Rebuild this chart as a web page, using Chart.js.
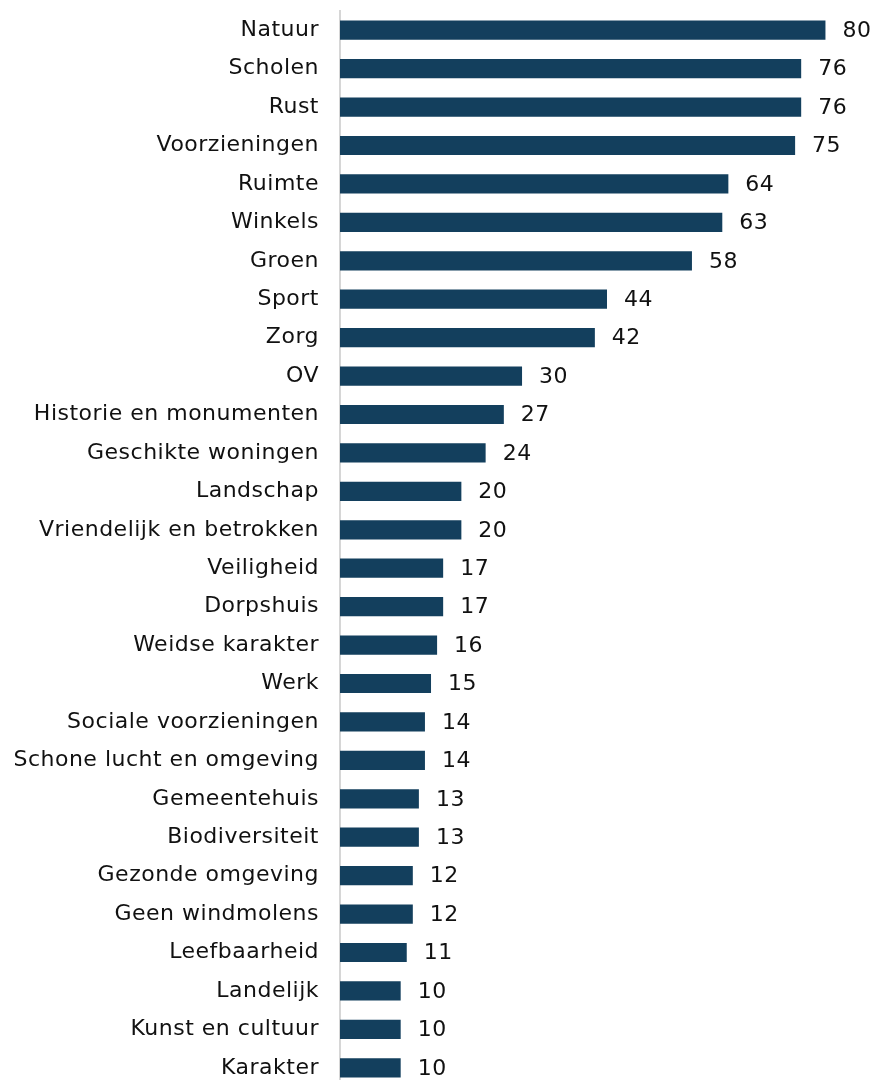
<!DOCTYPE html>
<html>
<head>
<meta charset="utf-8">
<script src="https://cdn.jsdelivr.net/npm/chart.js@4.4.1/dist/chart.umd.min.js"></script>
<style>
    html, body { margin: 0; padding: 0; background: #fff; overflow: hidden; }
    #wrap { width: 874px; height: 1080px; overflow: hidden; }
    #box { width: 874px; height: 1087px; }
</style>
</head>
<body>
<div id="wrap"><div id="box"><canvas id="chart"></canvas></div></div>
<script>
var categories = [
    'Natuur', 'Scholen', 'Rust', 'Voorzieningen', 'Ruimte', 'Winkels', 'Groen',
    'Sport', 'Zorg', 'OV', 'Historie en monumenten', 'Geschikte woningen',
    'Landschap', 'Vriendelijk en betrokken', 'Veiligheid', 'Dorpshuis',
    'Weidse karakter', 'Werk', 'Sociale voorzieningen', 'Schone lucht en omgeving',
    'Gemeentehuis', 'Biodiversiteit', 'Gezonde omgeving', 'Geen windmolens',
    'Leefbaarheid', 'Landelijk', 'Kunst en cultuur', 'Karakter'
];
var values = [
    80, 76, 76, 75, 64, 63, 58,
    44, 42, 30, 27, 24,
    20, 20, 17, 17,
    16, 15, 14, 14,
    13, 13, 12, 12,
    11, 10, 10, 10
];

var barColor = '#133f5d';
var textColor = '#111111';
var fontFamily = '"DejaVu Sans", sans-serif';
var spacing = '0.5px';

// canvas letter spacing gets reset on every resize, so set it before layout and draw
var spacingPlugin = {
    id: 'spacing',
    beforeLayout: function(chart) { chart.ctx.letterSpacing = spacing; },
    beforeDraw: function(chart) { chart.ctx.letterSpacing = spacing; }
};

var valueLabels = {
    id: 'valueLabels',
    afterDatasetsDraw: function(chart) {
        var ctx = chart.ctx;
        var meta = chart.getDatasetMeta(0);
        ctx.save();
        ctx.letterSpacing = spacing;
        ctx.font = '22px ' + fontFamily;
        ctx.fillStyle = textColor;
        ctx.textAlign = 'left';
        ctx.textBaseline = 'middle';
        meta.data.forEach(function(bar, i) {
            ctx.fillText(String(values[i]), bar.x + 17, bar.y + 1);
        });
        ctx.restore();
    }
};

new Chart(document.getElementById('chart'), {
    type: 'bar',
    data: {
        labels: categories,
        datasets: [{
            data: values,
            backgroundColor: barColor,
            borderWidth: 0,
            categoryPercentage: 1,
            barPercentage: 0.5
        }]
    },
    options: {
        indexAxis: 'y',
        responsive: true,
        maintainAspectRatio: false,
        animation: false,
        layout: { padding: { top: 11, right: 0, bottom: 0, left: 0 } },
        plugins: {
            legend: { display: false },
            tooltip: { enabled: false }
        },
        scales: {
            x: {
                display: false,
                min: 0,
                max: 88
            },
            y: {
                afterFit: function(scale) {
                    scale.width = 340;
                    scale.paddingTop = 0;
                    scale.paddingBottom = 0;
                },
                grid: { display: false, drawTicks: false },
                border: { display: true, color: '#d6d6d6', width: 2 },
                ticks: {
                    padding: 21,
                    color: textColor,
                    autoSkip: false,
                    font: { family: fontFamily, size: 22 }
                }
            }
        }
    },
    plugins: [spacingPlugin, valueLabels]
});
</script>
</body>
</html>
